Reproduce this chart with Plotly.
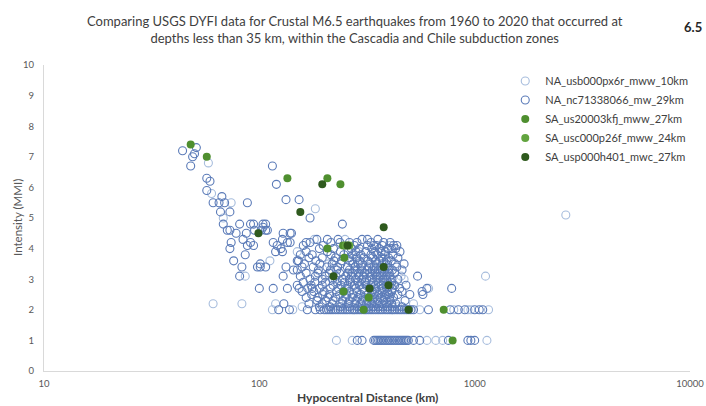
import plotly.graph_objects as go

# ---- data: hypocentral distance (km) grouped by DYFI intensity level (MMI) ----
na1_levels = [6.8, 5.8, 5.5, 5.3, 5.1, 5.0, 4.3, 4.1, 3.9, 3.6, 3.5, 3.4, 3.3, 3.1, 3.0, 2.9,
              2.8, 2.7, 2.5, 2.4, 2.3, 2.2, 2.1, 2.0, 1.0]
na1_rows = [[58], [60], [74], [182], [2650], [68], [180, 250], [404], [150, 290], [112, 270],
            [210, 330], [380], [285, 345], [86, 205, 455, 1123], [225, 470], [300],
            [275, 420], [250, 611], [290, 405], [320], [186], [61, 83, 119, 235, 520],
            [158, 340, 440], [115, 143, 275, 310, 415, 556, 800, 930, 960, 1160],
            [228, 270, 600, 660, 710, 1140]]

na2_levels = [7.3, 7.2, 7.1, 7.0, 6.7, 6.3, 6.2, 6.1, 5.9, 5.7, 5.6, 5.5, 5.2, 5.0, 4.8, 4.7,
              4.6, 4.5, 4.3, 4.2, 4.1, 4.0, 3.9, 3.8, 3.7, 3.6, 3.5, 3.4, 3.3, 3.2, 3.1, 3.0,
              2.9, 2.8, 2.7, 2.6, 2.5, 2.4, 2.3, 2.2, 2.1, 2.0, 1.0]
na2_rows = [
    [51], [44], [50], [49], [48, 115], [57], [59], [120], [57], [67], [133, 153],
    [61, 65, 69, 88], [66, 73], [172],
    [68, 81, 91, 104, 94, 107, 243], [104],
    [71, 73, 95, 107, 102, 109], [78, 141, 129, 139, 87],
    [84, 128, 207, 185, 232, 300, 355, 318],
    [74, 91, 135, 165, 116, 139, 237, 172, 215, 262, 284, 330, 378, 405],
    [88, 94, 121, 340, 435, 160, 198, 276, 318, 350, 372, 420],
    [73, 126, 190, 221, 267, 291, 333, 361, 395, 411, 430],
    [119, 128, 165, 207, 238, 259, 281, 312, 344, 368, 385, 450],
    [86, 155, 176, 215, 247, 271, 296, 330, 352, 383, 418],
    [170, 196, 226, 262, 283, 305, 336, 371, 398, 440],
    [76, 152, 150, 183, 222, 241, 263, 292, 319, 347, 362, 389, 410],
    [101, 162, 191, 218, 239, 272, 288, 300, 327, 350, 371, 388, 428, 470],
    [83, 101, 98, 107, 133, 158, 178, 206, 231, 256, 279, 298, 322, 341, 366, 392, 435],
    [144, 150, 188, 214, 229, 262, 278, 298, 317, 335, 357, 372, 398, 415, 460],
    [165, 187, 211, 236, 258, 271, 289, 308, 326, 345, 363, 380, 401, 425],
    [81, 129, 155, 182, 202, 227, 252, 268, 290, 305, 328, 349, 365, 387, 404, 543],
    [172, 196, 219, 243, 262, 280, 299, 315, 334, 352, 375, 390, 413, 440],
    [160, 181, 203, 230, 249, 265, 287, 309, 338, 356, 375, 395, 412],
    [150, 174, 196, 220, 240, 258, 276, 292, 313, 330, 347, 368, 388, 405, 425, 480],
    [100, 116, 135, 153, 176, 168, 190, 213, 233, 255, 281, 302, 325, 348, 371, 390, 414,
     449, 600, 782],
    [158, 179, 200, 228, 246, 262, 284, 307, 335, 352, 372, 394, 412, 460, 570],
    [175, 197, 212, 236, 254, 272, 296, 320, 341, 358, 383, 398, 440, 500, 575],
    [165, 187, 208, 226, 252, 270, 287, 305, 326, 342, 364, 380, 402, 420],
    [185, 204, 220, 244, 262, 281, 300, 318, 336, 355, 378, 405, 475],
    [130, 170, 196, 218, 242, 259, 278, 296, 315, 333, 352, 371, 390, 412, 430],
    [190, 213, 238, 262, 286, 300, 322, 338, 358, 375, 394, 415, 460],
    [123, 138, 167, 182, 192, 200, 205, 210, 215, 220, 226, 232, 238, 244, 250, 256, 263,
     270, 277, 284, 291, 298, 306, 314, 322, 330, 338, 347, 356, 365, 374, 384, 394, 404,
     414, 425, 436, 447, 458, 470, 482, 494, 506, 520, 610, 770, 840, 900, 1000, 1050, 1090],
    [285, 300, 340, 346, 352, 358, 364, 370, 377, 384, 391, 398, 405, 412, 420, 428, 436,
     444, 452, 460, 468, 476, 484, 492, 520, 556, 755, 930, 960, 1000],
]

sa1_dist = [48, 57, 135, 207, 238, 207, 248, 246, 322, 305, 718, 790, 245]
sa1_mmi = [7.4, 7.0, 6.3, 6.3, 6.1, 4.0, 3.7, 2.6, 2.4, 2.0, 2.0, 1.0, 4.1]
sa2_dist = [252, 262]
sa2_mmi = [4.1, 4.1]
sa3_dist = [99, 155, 196, 378, 378, 221, 325, 398, 493, 257]
sa3_mmi = [4.5, 5.2, 6.1, 4.7, 3.4, 3.1, 2.7, 2.8, 2.0, 4.1]

names = ["NA_usb000px6r_mww_10km", "NA_nc71338066_mw_29km", "SA_us20003kfj_mww_27km",
         "SA_usc000p26f_mww_24km", "SA_usp000h401_mwc_27km"]
x_tick_vals = [10, 100, 1000, 10000]
x_tick_text = ["10", "100", "1000", "10000"]
y_tick_vals = [0, 1, 2, 3, 4, 5, 6, 7, 8, 9, 10]


def expand(levels, rows):
    xs, ys = [], []
    for lvl, row in zip(levels, rows):
        for d in row:
            xs.append(d)
            ys.append(lvl)
    return xs, ys


na1_dist, na1_mmi = expand(na1_levels, na1_rows)
na2_dist, na2_mmi = expand(na2_levels, na2_rows)

FONT = "Lato"
fig = go.Figure()

fig.add_trace(go.Scatter(x=na1_dist, y=na1_mmi, mode="markers", name=names[0],
                         marker=dict(symbol="circle-open", size=8, color="#a7bddd",
                                     line=dict(width=1.1))))
fig.add_trace(go.Scatter(x=na2_dist, y=na2_mmi, mode="markers", name=names[1],
                         marker=dict(symbol="circle-open", size=8, color="#5b7bb8",
                                     line=dict(width=1.1))))
fig.add_trace(go.Scatter(x=sa1_dist, y=sa1_mmi, mode="markers", name=names[2],
                         marker=dict(symbol="circle", size=8, color="#4f8f2f")))
fig.add_trace(go.Scatter(x=sa2_dist, y=sa2_mmi, mode="markers", name=names[3],
                         marker=dict(symbol="circle", size=8, color="#62a43f")))
fig.add_trace(go.Scatter(x=sa3_dist, y=sa3_mmi, mode="markers", name=names[4],
                         marker=dict(symbol="circle", size=8, color="#2f5a1e")))

fig.update_layout(
    width=706, height=406,
    margin=dict(l=44, r=16, t=65, b=35),
    paper_bgcolor="white", plot_bgcolor="white",
    font=dict(family=FONT, color="#595959"),
    legend=dict(x=0.714, xanchor="left", y=0.995, yanchor="top",
                font=dict(family=FONT, size=11, color="#404040"),
                bgcolor="rgba(0,0,0,0)", itemwidth=30),
    showlegend=True,
)

fig.update_xaxes(type="log", range=[1, 4], tickvals=x_tick_vals, ticktext=x_tick_text,
                 automargin=False, showgrid=False, zeroline=False,
                 showline=True, linecolor="#d9d9d9", linewidth=1,
                 ticks="outside", ticklen=4, tickcolor="rgba(0,0,0,0)",
                 tickfont=dict(family=FONT, size=9.5, color="#595959"))
fig.update_yaxes(range=[0, 10], tickvals=y_tick_vals, automargin=False,
                 showgrid=False, zeroline=False,
                 showline=True, linecolor="#d9d9d9", linewidth=1,
                 ticks="outside", ticklen=7, tickcolor="rgba(0,0,0,0)",
                 tickfont=dict(family=FONT, size=9.5, color="#595959"))

fig.add_annotation(text="Comparing USGS DYFI data for Crustal M6.5 earthquakes from 1960 to 2020 that occurred at<br>"
                        "depths less than 35 km, within the Cascadia and Chile subduction zones",
                   xref="paper", yref="paper", x=(355 - 44) / 646, y=(371 - 30) / 306,
                   xanchor="center", yanchor="middle", showarrow=False,
                   font=dict(family=FONT, size=13, color="#404040"))
fig.add_annotation(text="<b>Hypocentral Distance (km)</b>", xref="paper", yref="paper",
                   x=0.5, y=(371 - 397) / 306, xanchor="center", yanchor="middle",
                   showarrow=False, font=dict(family=FONT, size=12, color="#404040"))
fig.add_annotation(text="Intensity (MMI)", textangle=-90, xref="paper", yref="paper",
                   x=(17 - 44) / 646, y=0.5, xanchor="center", yanchor="middle",
                   showarrow=False, font=dict(family=FONT, size=11.5, color="#595959"))
fig.add_annotation(text="<b>6.5</b>", xref="paper", yref="paper",
                   x=(693 - 44) / 646, y=(371 - 27) / 306, xanchor="center", yanchor="middle",
                   showarrow=False, font=dict(family=FONT, size=13, color="#262626"))

fig.write_html("out.html")
